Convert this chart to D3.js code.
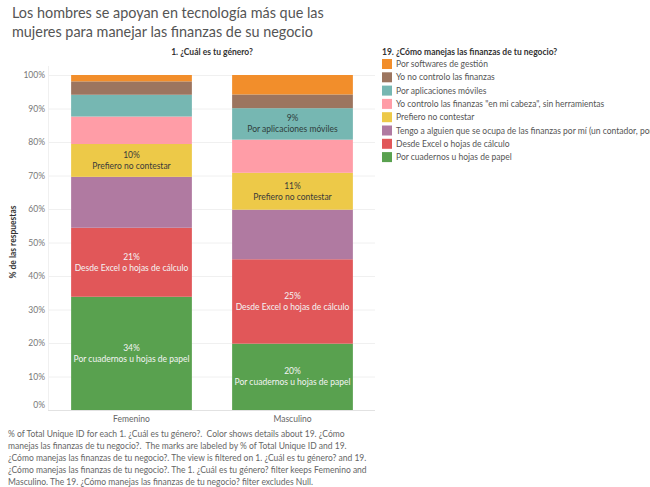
<!DOCTYPE html>
<html>
<head>
<meta charset="utf-8">
<script src="https://cdn.jsdelivr.net/npm/d3@7"></script>
<style>
body { margin: 0; background: #fff; }
svg { font-family: "Lato", "Noto Sans", sans-serif; }
</style>
</head>
<body>
<div id="chart"></div>
<script>
// data
var genders = ["Femenino", "Masculino"];
// stack order, bottom to top
var answers = [
  "Por cuadernos u hojas de papel",
  "Desde Excel o hojas de cálculo",
  "Tengo a alguien que se ocupa de las finanzas por mí (un contador, por ejemplo)",
  "Prefiero no contestar",
  "Yo controlo las finanzas \"en mi cabeza\", sin herramientas",
  "Por aplicaciones móviles",
  "Yo no controlo las finanzas",
  "Por softwares de gestión"
];
var femenino = [33.8, 20.6, 15.2, 9.8, 8.2, 6.5, 4.0, 1.9];
var masculino = [19.8, 25.2, 14.8, 11.0, 9.9, 9.4, 4.1, 5.8];
// which segments carry a text label
var labelFem = [true, true, false, true, false, false, false, false];
var labelMas = [true, true, false, true, false, true, false, false];
var colors = ["#59A14F", "#E15759", "#B07AA1", "#EDC948", "#FF9DA7", "#76B7B2", "#9C755F", "#F28E2B"];
var yTicks = [0, 10, 20, 30, 40, 50, 60, 70, 80, 90, 100];

var width = 650, height = 487;

var svg = d3.select("#chart").append("svg")
  .attr("width", width)
  .attr("height", height);

// title
svg.append("text")
  .attr("x", 12).attr("y", 18)
  .attr("fill", "#555")
  .style("font-size", "14.4px")
  .text("Los hombres se apoyan en tecnología más que las");
svg.append("text")
  .attr("x", 12).attr("y", 37)
  .attr("fill", "#555")
  .style("font-size", "14.4px")
  .text("mujeres para manejar las finanzas de su negocio");

var x = d3.scaleBand().domain(genders).range([51, 373]).paddingInner(0.25).paddingOuter(0.125);
var y = d3.scaleLinear().domain([0, 100]).range([410, 75]);
var color = d3.scaleOrdinal().domain(answers).range(colors);

// column header
svg.append("text")
  .attr("x", 212).attr("y", 55)
  .attr("text-anchor", "middle")
  .attr("fill", "#333")
  .style("font-size", "8.5px")
  .style("font-weight", "bold")
  .text("1. ¿Cuál es tu género?");

// grid
svg.append("g").selectAll("line")
  .data(yTicks)
  .enter().append("line")
  .attr("x1", 48).attr("x2", 375)
  .attr("y1", function (d) { return y(d) + 0.5; })
  .attr("y2", function (d) { return y(d) + 0.5; })
  .attr("stroke", function (d) { return d === 0 ? "#e2e2e2" : "#f0f0f0"; });

svg.append("line")
  .attr("x1", 48.5).attr("x2", 48.5)
  .attr("y1", 66).attr("y2", 410)
  .attr("stroke", "#f0f0f0");

// y axis
var yAxis = svg.append("g")
  .attr("transform", "translate(48,0)")
  .call(d3.axisLeft(y).tickValues(yTicks).tickSize(0).tickPadding(3)
    .tickFormat(function (d) { return d + "%"; }));
yAxis.select(".domain").remove();
yAxis.selectAll("text")
  .attr("fill", "#777")
  .style("font-size", "8.5px")
  .style("font-family", "Lato, 'Noto Sans', sans-serif");
// Tableau nudges the bottom label up
yAxis.selectAll(".tick").filter(function (d) { return d === 0; })
  .select("text").attr("dy", "-0.3em");

svg.append("text")
  .attr("transform", "translate(16,242) rotate(-90)")
  .attr("text-anchor", "middle")
  .attr("fill", "#333")
  .style("font-size", "8.5px")
  .style("font-weight", "bold")
  .text("% de las respuestas");

// x axis labels
svg.append("g").selectAll("text")
  .data(genders)
  .enter().append("text")
  .attr("x", function (d) { return x(d) + x.bandwidth() / 2; })
  .attr("y", 422)
  .attr("text-anchor", "middle")
  .attr("fill", "#666")
  .style("font-size", "8.5px")
  .text(function (d) { return d; });

// stacked bars
var rows = genders.map(function (g, i) {
  var vals = i === 0 ? femenino : masculino;
  var r = { gender: g };
  answers.forEach(function (a, j) { r[a] = vals[j]; });
  return r;
});
var series = d3.stack().keys(answers)(rows);

var layer = svg.append("g").selectAll("g")
  .data(series)
  .enter().append("g")
  .attr("fill", function (d) { return color(d.key); });

layer.selectAll("rect")
  .data(function (d) { return d; })
  .enter().append("rect")
  .attr("x", function (d) { return x(d.data.gender); })
  .attr("width", x.bandwidth())
  .attr("y", function (d) { return y(d[1]); })
  .attr("height", function (d) { return y(d[0]) - y(d[1]); });

// segment labels
var darkText = { "Prefiero no contestar": "#3a3a3a", "Por aplicaciones móviles": "#2f3d3c" };
series.forEach(function (s, j) {
  s.forEach(function (d, i) {
    var show = i === 0 ? labelFem[j] : labelMas[j];
    if (!show) return;
    var cx = x(d.data.gender) + x.bandwidth() / 2;
    var cy = (y(d[0]) + y(d[1])) / 2;
    var fill = darkText[s.key] || "#f4f4f4";
    var t = svg.append("text")
      .attr("text-anchor", "middle")
      .attr("fill", fill)
      .style("font-size", "8.5px");
    t.append("tspan").attr("x", cx).attr("y", cy - 2.5)
      .text(Math.round(d[1] - d[0]) + "%");
    t.append("tspan").attr("x", cx).attr("y", cy + 8.5)
      .text(s.key);
  });
});

// legend
var legend = svg.append("g").attr("transform", "translate(382,0)");
legend.append("text")
  .attr("x", 0).attr("y", 55)
  .attr("fill", "#333")
  .style("font-size", "8.5px")
  .style("font-weight", "bold")
  .text("19. ¿Cómo manejas las finanzas de tu negocio?");

var legendOrder = answers.slice().reverse();
var item = legend.selectAll(".item")
  .data(legendOrder)
  .enter().append("g")
  .attr("class", "item")
  .attr("transform", function (d, i) { return "translate(0," + (59 + i * 13.3) + ")"; });
item.append("rect")
  .attr("width", 10).attr("height", 10)
  .attr("fill", function (d) { return color(d); });
item.append("text")
  .attr("x", 14).attr("y", 8)
  .attr("fill", "#555")
  .style("font-size", "8.5px")
  .text(function (d) { return d; });

// caption
var caption = [
  "% of Total Unique ID for each 1. ¿Cuál es tu género?.  Color shows details about 19. ¿Cómo",
  "manejas las finanzas de tu negocio?.  The marks are labeled by % of Total Unique ID and 19.",
  "¿Cómo manejas las finanzas de tu negocio?. The view is filtered on 1. ¿Cuál es tu género? and 19.",
  "¿Cómo manejas las finanzas de tu negocio?. The 1. ¿Cuál es tu género? filter keeps Femenino and",
  "Masculino. The 19. ¿Cómo manejas las finanzas de tu negocio? filter excludes Null."
];
svg.append("g").selectAll("text")
  .data(caption)
  .enter().append("text")
  .attr("x", 8)
  .attr("y", function (d, i) { return 437 + i * 12.1; })
  .attr("fill", "#666")
  .style("font-size", "8.5px")
  .style("white-space", "pre")
  .text(function (d) { return d; });
</script>
</body>
</html>
